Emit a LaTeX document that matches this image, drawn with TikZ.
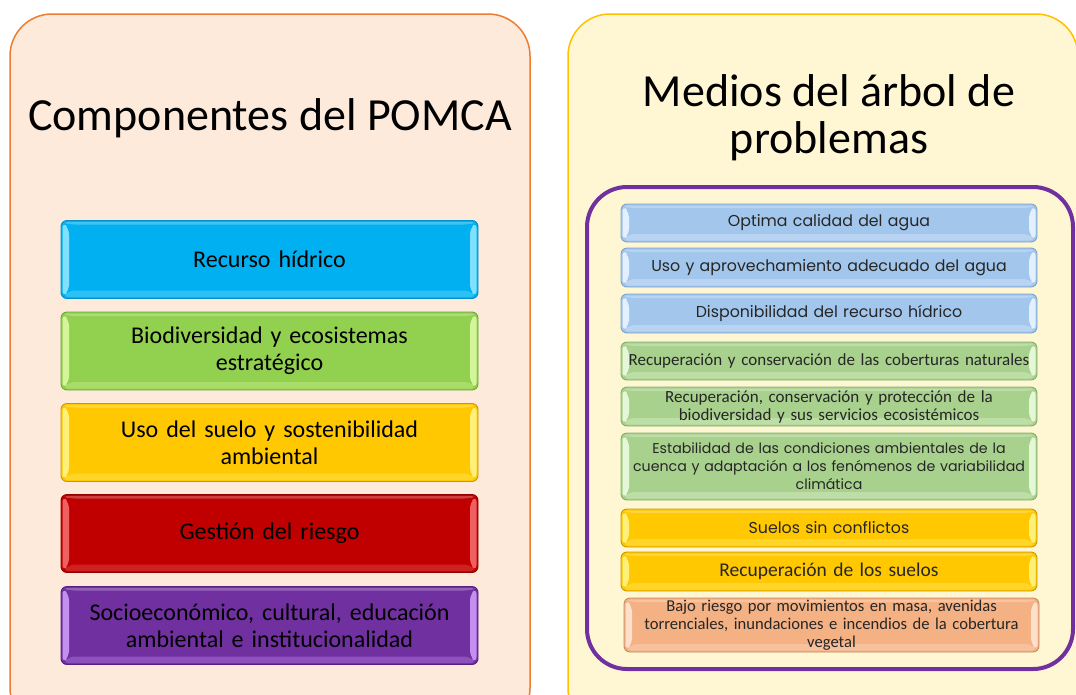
\documentclass[tikz,border=0pt]{standalone}
\usepackage{fontspec}
\setmainfont{Carlito}
\newfontfamily\gothic{Poppins}
\usetikzlibrary{calc}
\definecolor{lbg}{HTML}{FDEADA}
\definecolor{lbd}{HTML}{ED7D31}
\definecolor{rbg}{HTML}{FFF7D4}
\definecolor{rbd}{HTML}{FFC000}
\definecolor{frame}{HTML}{7030A0}
\definecolor{txtg}{HTML}{262626}
\definecolor{cyanF}{HTML}{00B0F0}\definecolor{cyanD}{HTML}{0090CC}\definecolor{cyanL}{HTML}{7FE0FF}
\definecolor{grnF}{HTML}{92D050}\definecolor{grnD}{HTML}{6FA83A}\definecolor{grnL}{HTML}{D4F59A}
\definecolor{yelF}{HTML}{FFC800}\definecolor{yelD}{HTML}{C89A00}\definecolor{yelL}{HTML}{FFF07A}
\definecolor{redF}{HTML}{C00000}\definecolor{redD}{HTML}{900000}\definecolor{redL}{HTML}{F06060}
\definecolor{purF}{HTML}{7030A0}\definecolor{purD}{HTML}{552080}\definecolor{purL}{HTML}{C490F0}
\definecolor{lbluF}{HTML}{A2C6EC}\definecolor{lbluD}{HTML}{7DA3CC}\definecolor{lbluL}{HTML}{E2F0FF}
\definecolor{lgrnF}{HTML}{A9D18E}\definecolor{lgrnD}{HTML}{84AE68}\definecolor{lgrnL}{HTML}{E4F7D6}
\definecolor{pchF}{HTML}{F4B183}\definecolor{pchD}{HTML}{C88A60}\definecolor{pchL}{HTML}{FCE0CC}
\tikzset{
  panel/.style={rounded corners=42pt, line width=1.5pt},
  bev/.style n args={3}{fill=#1, draw=#2, rounded corners=6pt, line width=0.9pt, inner sep=0pt, align=center,
    path picture={
      \coordinate (pNW) at (path picture bounding box.north west);
      \coordinate (pSE) at (path picture bounding box.south east);
      \fill[#3] ($(pNW)+(1.5,1.5)$) -- ($(pNW)+(8,8)$) -- ($(pNW|-pSE)+(8,-8)$) -- ($(pNW|-pSE)+(1.5,-1.5)$) -- cycle;
      \fill[#3] ($(pSE|-pNW)+(-1.5,1.5)$) -- ($(pSE|-pNW)+(-8,8)$) -- ($(pSE)+(-8,-8)$) -- ($(pSE)+(-1.5,-1.5)$) -- cycle;
      \fill[#3, opacity=0.35] ($(pNW|-pSE)+(8,-8)$) -- ($(pSE)+(-8,-8)$) -- ($(pSE)+(-1.5,-1.5)$) -- ($(pNW|-pSE)+(1.5,-1.5)$) -- cycle;
      \fill[white, opacity=0.25] ($(pNW)+(1.5,1.5)$) -- ($(pSE|-pNW)+(-1.5,1.5)$) -- ($(pSE|-pNW)+(-8,4)$) -- ($(pNW)+(8,4)$) -- cycle;
    }},
  lbox/.style={minimum width=417pt, minimum height=78pt, text width=400pt, font=\fontsize{24}{27}\selectfont, text=black},
  rbox/.style={minimum width=416pt, text width=410pt, text=txtg},
  gt/.style={font=\gothic\fontsize{15.8}{18}\selectfont},
  gts/.style={font=\gothic\fontsize{14.2}{18}\selectfont},
  ct/.style={font=\fontsize{17}{18}\selectfont},
}
\begin{document}
\begin{tikzpicture}[x=1pt, y=-1pt]
\clip (0,0) rectangle (1076,694);
\fill[white] (0,0) rectangle (1076,694);
% panels
\draw[panel, fill=lbg, draw=lbd] (10,14) rectangle (530,730);
\draw[panel, fill=rbg, draw=rbd] (568,14) rectangle (1078,730);
\node[anchor=base, font=\fontsize{46}{47}\selectfont] (t1) at (270,130) {Componentes del POMCA};
\node[align=center, font=\fontsize{46}{47}\selectfont] (t2) at (829,118) {Medios del árbol de\\problemas};
% left boxes
\node[lbox, bev={cyanF}{cyanD}{cyanL}] (l1) at (269.5,259.5) {Recurso hídrico};
\node[lbox, bev={grnF}{grnD}{grnL}] (l2) at (269.5,351) {Biodiversidad y ecosistemas\\estratégico};
\node[lbox, bev={yelF}{yelD}{yelL}] (l3) at (269.5,442.5) {Uso del suelo y sostenibilidad\\ambiental};
\node[lbox, bev={redF}{redD}{redL}] (l4) at (269.5,533.5) {Gestión del riesgo};
\node[lbox, bev={purF}{purD}{purL}] (l5) at (269.5,625.5) {Socioeconómico, cultural, educación\\ambiental e institucionalidad};
% purple frame
\draw[frame, line width=4pt, rounded corners=40pt] (587,187) rectangle (1073,669);
% right boxes
\node[rbox, gt, minimum height=38pt, bev={lbluF}{lbluD}{lbluL}] (r1) at (829,223) {Optima calidad del agua};
\node[rbox, gt, minimum height=39pt, bev={lbluF}{lbluD}{lbluL}] (r2) at (829,267.5) {Uso y aprovechamiento adecuado del agua};
\node[rbox, gt, minimum height=39pt, bev={lbluF}{lbluD}{lbluL}] (r3) at (829,313.5) {Disponibilidad del recurso hídrico};
\node[rbox, ct, minimum height=38pt, bev={lgrnF}{lgrnD}{lgrnL}] (r4) at (829,361) {Recuperación y conservación de las coberturas naturales};
\node[rbox, ct, minimum height=39pt, bev={lgrnF}{lgrnD}{lgrnL}] (r5) at (829,406.5) {Recuperación, conservación y protección de la\\biodiversidad y sus servicios ecosistémicos};
\node[rbox, gts, minimum height=67pt, bev={lgrnF}{lgrnD}{lgrnL}] (r6) at (829,466.5) {Estabilidad de las condiciones ambientales de la\\cuenca y adaptación a los fenómenos de variabilidad\\climática};
\node[rbox, gt, minimum height=38pt, bev={yelF}{yelD}{yelL}] (r7) at (829,528) {Suelos sin conflictos};
\node[rbox, ct, font=\fontsize{19.5}{20}\selectfont, minimum height=39pt, bev={yelF}{yelD}{yelL}] (r8) at (829,571.5) {Recuperación de los suelos};
\node[rbox, ct, font=\fontsize{16.6}{18}\selectfont, minimum width=415pt, minimum height=54pt, bev={pchF}{pchD}{pchL}] (r9) at (831.5,625) {Bajo riesgo por movimientos en masa, avenidas\\torrenciales, inundaciones e incendios de la cobertura\\vegetal};
\end{tikzpicture}
\end{document}
